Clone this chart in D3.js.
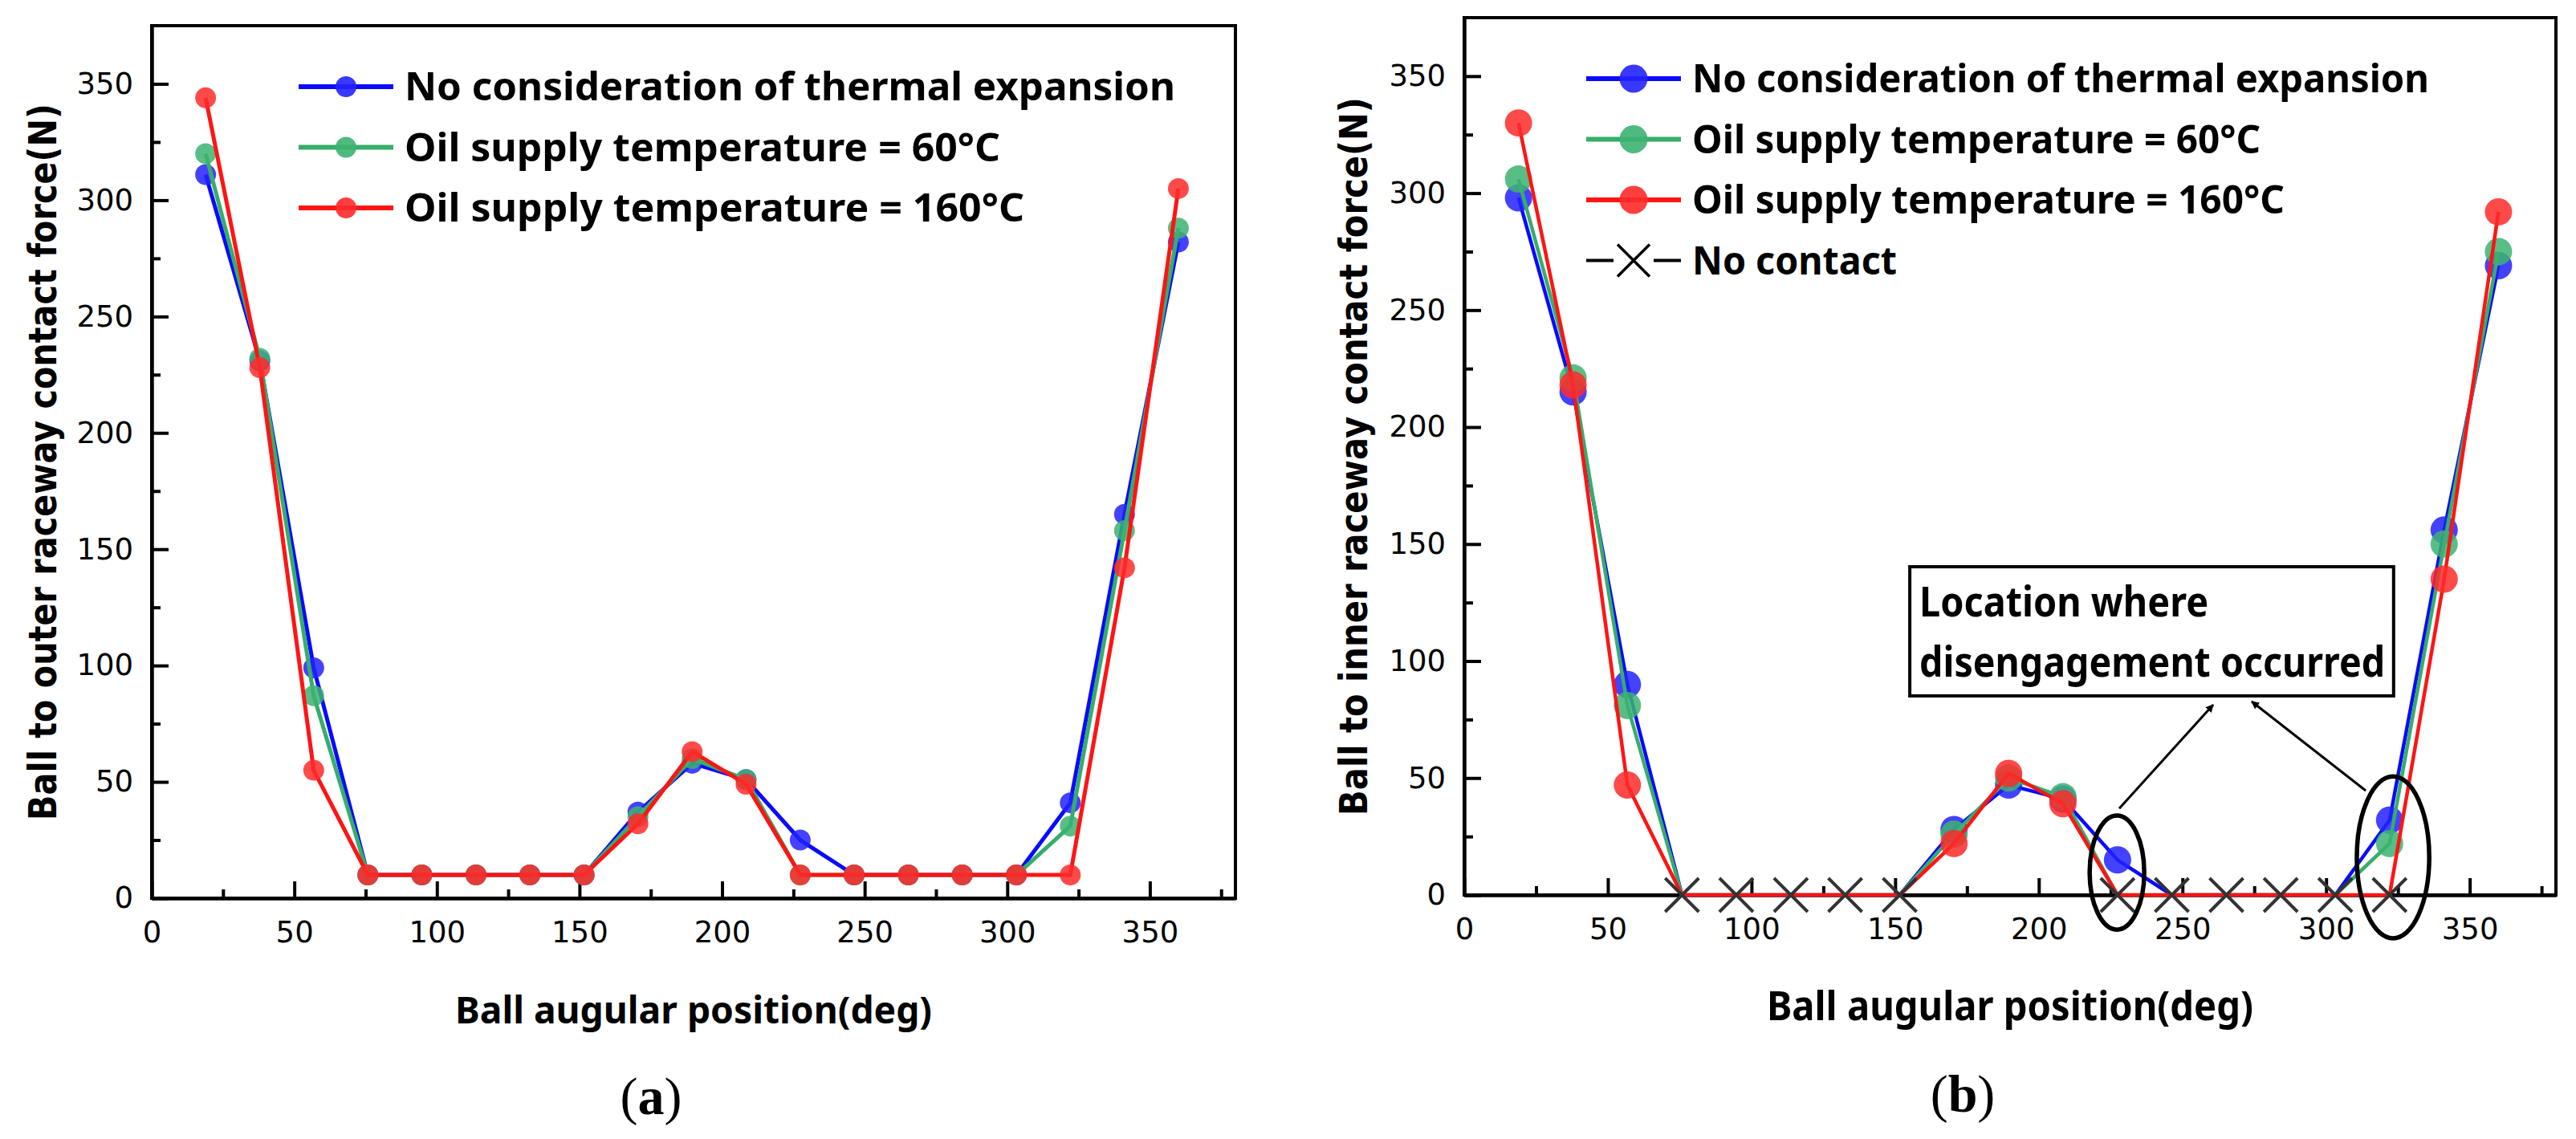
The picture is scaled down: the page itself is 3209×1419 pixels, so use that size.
<!DOCTYPE html>
<html>
<head>
<meta charset="utf-8">
<script src="https://cdn.jsdelivr.net/npm/d3@7"></script>
<style>
  body { margin: 0; background: #fff; }
  svg { display: block; }
  .tick text { font-family: "DejaVu Sans", Verdana, sans-serif; font-size: 37px; fill: #000; }
</style>
</head>
<body>
<div id="app"></div>
<script>
// ball angular positions (deg), one per ball
const angles = [18.9, 37.9, 56.8, 75.8, 94.7, 113.7, 132.6, 151.6, 170.5, 189.5,
  208.4, 227.4, 246.3, 265.3, 284.2, 303.2, 322.1, 341.1, 360];

// (a) ball to outer raceway contact force (N)
const outerNoThermal = [311, 231, 99, 10, 10, 10, 10, 10, 37, 58, 51, 25, 10, 10, 10, 10, 41, 165, 282];
const outer60 = [320, 232, 87, 10, 10, 10, 10, 10, 35, 60, 51, 10, 10, 10, 10, 10, 31, 158, 288];
const outer160 = [344, 228, 55, 10, 10, 10, 10, 10, 32, 63, 49, 10, 10, 10, 10, 10, 10, 142, 305];

// (b) ball to inner raceway contact force (N)
const innerNoThermal = [298, 215, 90, 0, 0, 0, 0, 0, 28, 47, 41, 15, 0, 0, 0, 0, 32, 156, 269];
const inner60 = [306, 221, 81, 0, 0, 0, 0, 0, 26, 50, 42, 0, 0, 0, 0, 0, 22, 150, 275];
const inner160 = [330, 218, 47, 0, 0, 0, 0, 0, 22, 52, 39, 0, 0, 0, 0, 0, 0, 135, 292];
const noContactAngles = [75.8, 94.7, 113.7, 132.6, 151.6, 227.4, 246.3, 265.3, 284.2, 303.2, 322.1];

const seriesNames = ["No consideration of thermal expansion",
  "Oil supply temperature = 60\u00B0C", "Oil supply temperature = 160\u00B0C"];
const lineColors = ["#0a0aff", "#36ad69", "#ff1414"];
const markerColors = ["#2222ff", "#3cb371", "#ff2a2a"];

const xTicks = [0, 50, 100, 150, 200, 250, 300, 350];
const xMinor = [25, 75, 125, 175, 225, 275, 325, 375];
const yTicks = [0, 50, 100, 150, 200, 250, 300, 350];
const yMinor = [25, 75, 125, 175, 225, 275, 325];

const W = 3209, H = 1419;
const svg = d3.select("#app").append("svg").attr("width", W).attr("height", H);
svg.append("rect").attr("width", W).attr("height", H).attr("fill", "#fff");

// arrowhead for the annotation
svg.append("defs").append("marker")
  .attr("id", "arrow").attr("viewBox", "0 0 10 10")
  .attr("refX", 9).attr("refY", 5)
  .attr("markerWidth", 10).attr("markerHeight", 10)
  .attr("markerUnits", "userSpaceOnUse")
  .attr("orient", "auto")
  .append("path").attr("d", "M0,0 L10,5 L0,10 Z").attr("fill", "#000");

const fit = (sel, w) => sel.attr("textLength", w).attr("lengthAdjust", "spacingAndGlyphs");

function panel(cfg) {
  const x = d3.scaleLinear().domain([0, 380]).range([cfg.left, cfg.right]);
  const y = d3.scaleLinear().domain([0, 375]).range([cfg.bottom, cfg.top]);
  const g = svg.append("g");

  // frame
  g.append("rect")
    .attr("x", cfg.left).attr("y", cfg.top)
    .attr("width", cfg.right - cfg.left).attr("height", cfg.bottom - cfg.top)
    .attr("fill", "none").attr("stroke", "#000").attr("stroke-width", 4);

  // axes with inward ticks
  g.append("g").attr("transform", `translate(0,${cfg.bottom})`)
    .call(d3.axisBottom(x).tickValues(xTicks).tickSize(-21).tickSizeOuter(0).tickPadding(29));
  g.append("g").attr("transform", `translate(0,${cfg.bottom})`)
    .call(d3.axisBottom(x).tickValues(xMinor).tickSize(-11).tickSizeOuter(0).tickFormat(""));
  g.append("g").attr("transform", `translate(${cfg.left},0)`)
    .call(d3.axisLeft(y).tickValues(yTicks).tickSize(-21).tickSizeOuter(0).tickPadding(23));
  g.append("g").attr("transform", `translate(${cfg.left},0)`)
    .call(d3.axisLeft(y).tickValues(yMinor).tickSize(-11).tickSizeOuter(0).tickFormat(""));
  g.selectAll(".domain").attr("stroke-width", 4);
  g.selectAll(".tick line").attr("stroke-width", 4);

  // series
  const line = d3.line().x((d) => x(d[0])).y((d) => y(d[1]));
  cfg.series.forEach((vals, i) => {
    const pts = angles.map((a, k) => [a, vals[k]]);
    g.append("path").datum(pts)
      .attr("d", line).attr("fill", "none")
      .attr("stroke", lineColors[i]).attr("stroke-width", cfg.lw)
      .attr("stroke-linejoin", "round");
    g.selectAll(null).data(pts.filter((d) => d[1] > 0)).join("circle")
      .attr("cx", (d) => x(d[0])).attr("cy", (d) => y(d[1]))
      .attr("r", cfg.r).attr("fill", markerColors[i]).attr("fill-opacity", 0.85);
  });

  // y title: sized so its length matches, then stretched across to the original letter height
  const yt = g.append("text")
    .attr("text-anchor", "middle")
    .attr("font-family", "'DejaVu Sans', Verdana, sans-serif")
    .attr("font-weight", 700).attr("font-size", 48)
    .text(cfg.yTitle);
  const fs = 48 * cfg.yTitleLen / yt.node().getComputedTextLength();
  yt.attr("font-size", fs)
    .attr("transform",
      `translate(${cfg.yTitleX},${(cfg.top + cfg.bottom) / 2}) rotate(-90) scale(1,${48 / fs})`);

  g.append("text")
    .attr("x", (cfg.left + cfg.right) / 2).attr("y", cfg.xTitleY)
    .attr("text-anchor", "middle")
    .attr("font-family", "'Noto Sans', 'Open Sans', sans-serif")
    .attr("font-weight", 700).attr("font-size", cfg.xTitleSize)
    .text("Ball augular position(deg)").call(fit, cfg.xTitleLen);

  // panel label
  const lab = g.append("text")
    .attr("x", cfg.labX).attr("y", cfg.labY).attr("text-anchor", "middle")
    .attr("font-family", "'Liberation Serif', 'Times New Roman', serif")
    .attr("font-size", 66);
  lab.append("tspan").text("(");
  lab.append("tspan").attr("font-weight", 700).text(cfg.label);
  lab.append("tspan").text(")");

  // legend
  const lg = g.append("g");
  cfg.series.forEach((vals, i) => {
    const ly = cfg.legY + i * cfg.legStep;
    lg.append("line").attr("x1", cfg.legX).attr("x2", cfg.legX + 118)
      .attr("y1", ly).attr("y2", ly)
      .attr("stroke", lineColors[i]).attr("stroke-width", 6);
    lg.append("circle").attr("cx", cfg.legX + 59).attr("cy", ly)
      .attr("r", cfg.legR).attr("fill", markerColors[i]).attr("fill-opacity", 0.9);
    lg.append("text").attr("x", cfg.legX + 132).attr("y", ly + 17)
      .attr("font-family", "'Noto Sans', 'Open Sans', sans-serif")
      .attr("font-weight", 700).attr("font-size", 49)
      .text(seriesNames[i]).call(fit, cfg.legLens[i]);
  });

  return { g, x, y, lg };
}

// (a) outer raceway
panel({
  left: 189, right: 1539, top: 32, bottom: 1119,
  series: [outerNoThermal, outer60, outer160], lw: 5, r: 13,
  yTitle: "Ball to outer raceway contact force(N)", yTitleX: 70, yTitleLen: 893,
  xTitleY: 1275, xTitleSize: 46, xTitleLen: 594,
  label: "a", labX: 811, labY: 1388,
  legX: 372, legY: 108, legStep: 75.5, legR: 13, legLens: [960, 742, 772]
});

// (b) inner raceway
const b = panel({
  left: 1824, right: 3184, top: 22, bottom: 1115,
  series: [innerNoThermal, inner60, inner160], lw: 4.5, r: 17,
  yTitle: "Ball to inner raceway contact force(N)", yTitleX: 1703, yTitleLen: 895,
  xTitleY: 1271, xTitleSize: 50, xTitleLen: 606,
  label: "b", labX: 2445, labY: 1385,
  legX: 1976, legY: 98, legStep: 75.5, legR: 17.5, legLens: [918, 708, 738]
});

// "no contact" crosses
const cross = (s) => `M${-s},${-s}L${s},${s}M${-s},${s}L${s},${-s}`;
b.g.selectAll(null).data(noContactAngles).join("path")
  .attr("transform", (d) => `translate(${b.x(d)},${b.y(0)})`)
  .attr("d", cross(21)).attr("fill", "none")
  .attr("stroke", "#333").attr("stroke-width", 4);

// legend entry for crosses
const ly4 = 98 + 3 * 75.5;
b.lg.append("line").attr("x1", 1976).attr("x2", 2010).attr("y1", ly4).attr("y2", ly4)
  .attr("stroke", "#000").attr("stroke-width", 4);
b.lg.append("line").attr("x1", 2060).attr("x2", 2094).attr("y1", ly4).attr("y2", ly4)
  .attr("stroke", "#000").attr("stroke-width", 4);
b.lg.append("path").attr("transform", `translate(2035,${ly4})`)
  .attr("d", cross(20)).attr("fill", "none").attr("stroke", "#000").attr("stroke-width", 3.5);
b.lg.append("text").attr("x", 2108).attr("y", ly4 + 17)
  .attr("font-family", "'Noto Sans', 'Open Sans', sans-serif")
  .attr("font-weight", 700).attr("font-size", 49)
  .text("No contact").call(fit, 255);

// annotation (data units)
const noteBox = { x0: 155.1, x1: 323.5, y0: 140.3, y1: 85.1 };
const noteLines = ["Location where", "disengagement occurred"];
const noteArrows = [[228, 37, 260.7, 81.3], [313.8, 44.6, 274.1, 82.7]];
const noteEllipses = [[227.2, 9.6, 9.5, 24.4], [323.3, 16.1, 12.6, 34.6]];

b.g.append("rect")
  .attr("x", b.x(noteBox.x0)).attr("y", b.y(noteBox.y0))
  .attr("width", b.x(noteBox.x1) - b.x(noteBox.x0))
  .attr("height", b.y(noteBox.y1) - b.y(noteBox.y0))
  .attr("fill", "#fff").attr("stroke", "#000").attr("stroke-width", 4);
b.g.selectAll(null).data(noteLines).join("text")
  .attr("x", b.x(noteBox.x0) + 12)
  .attr("y", (d, i) => b.y(noteBox.y0) + 62 + i * 75)
  .attr("font-family", "'Noto Sans', 'Open Sans', sans-serif")
  .attr("font-weight", 700).attr("font-size", 52)
  .text((d) => d)
  .each(function (d, i) { d3.select(this).call(fit, [360, 580][i]); });
b.g.selectAll(null).data(noteArrows).join("line")
  .attr("x1", (d) => b.x(d[0])).attr("y1", (d) => b.y(d[1]))
  .attr("x2", (d) => b.x(d[2])).attr("y2", (d) => b.y(d[3]))
  .attr("stroke", "#000").attr("stroke-width", 3)
  .attr("marker-end", "url(#arrow)");
b.g.selectAll(null).data(noteEllipses).join("ellipse")
  .attr("cx", (d) => b.x(d[0])).attr("cy", (d) => b.y(d[1]))
  .attr("rx", (d) => b.x(d[2]) - b.x(0)).attr("ry", (d) => b.y(0) - b.y(d[3]))
  .attr("fill", "none").attr("stroke", "#000").attr("stroke-width", 5.5);
</script>
</body>
</html>
